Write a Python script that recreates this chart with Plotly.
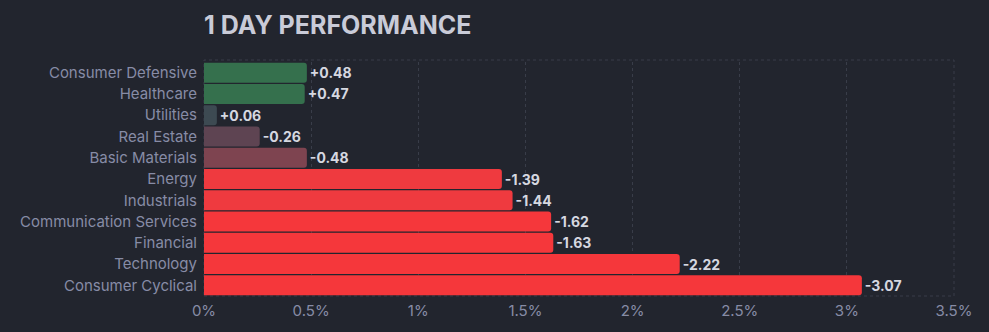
import plotly.graph_objects as go

# Sector performance over one trading day (percent change)
sectors = [
    "Consumer Defensive", "Healthcare", "Utilities", "Real Estate",
    "Basic Materials", "Energy", "Industrials", "Communication Services",
    "Financial", "Technology", "Consumer Cyclical",
]
changes = [0.48, 0.47, 0.06, -0.26, -0.48, -1.39, -1.44, -1.62, -1.63, -2.22, -3.07]
bar_colors = [
    "#35704d", "#35704d", "#3d4a52", "#5e4452", "#7e4450",
    "#ef3a3f", "#ef3a3f", "#f5373b", "#f5373b", "#f5373b", "#f5373b",
]
x_ticks = [0, 0.5, 1, 1.5, 2, 2.5, 3, 3.5]
x_tick_text = ["0%", "0.5%", "1%", "1.5%", "2%", "2.5%", "3%", "3.5%"]

bg = "#22252e"
grid = "#393d49"

labels = [f"{v:+.2f}" for v in changes]
magnitudes = [abs(v) for v in changes]

fig = go.Figure(
    go.Bar(
        x=magnitudes,
        y=sectors,
        orientation="h",
        marker=dict(color=bar_colors, line=dict(width=0), cornerradius=3),
        text=labels,
        textposition="outside",
        textfont=dict(family="Inter", size=14, color="#d6d8e0", weight="bold"),
        cliponaxis=False,
        hoverinfo="skip",
    )
)

fig.update_layout(
    width=989,
    height=332,
    paper_bgcolor=bg,
    plot_bgcolor=bg,
    margin=dict(l=204, r=35, t=62, b=36),
    bargap=0.06,
    showlegend=False,
    font=dict(family="Inter", color="#878ca6"),
    title=dict(
        text="<b>1 DAY PERFORMANCE</b>",
        x=204 / 989,
        xanchor="left",
        y=1 - 25 / 332,
        yanchor="middle",
        font=dict(family="Inter", size=25, color="#c9cbd8"),
    ),
    xaxis=dict(
        range=[0, 3.5],
        tickvals=x_ticks,
        ticktext=x_tick_text,
        showgrid=True,
        gridcolor=grid,
        griddash="3px,3px",
        gridwidth=1,
        zeroline=False,
        showline=False,
        tickfont=dict(family="Inter", size=15, color="#878ca6"),
        ticks="",
        ticklabelstandoff=4,
        fixedrange=True,
    ),
    yaxis=dict(
        categoryorder="array",
        categoryarray=sectors[::-1],
        showgrid=False,
        zeroline=False,
        showline=False,
        ticks="",
        tickfont=dict(family="Inter", size=15, color="#878ca6"),
        ticklabelstandoff=6,
        fixedrange=True,
    ),
)

# Dashed frame around the plotting area (top edge sits a touch above the bars)
fig.add_shape(
    type="rect",
    xref="x domain",
    yref="y domain",
    x0=0, x1=1, y0=0, y1=1 + 2 / 234,
    line=dict(color=grid, width=1, dash="3px,3px"),
    layer="below",
)

fig.write_html("out.html")
